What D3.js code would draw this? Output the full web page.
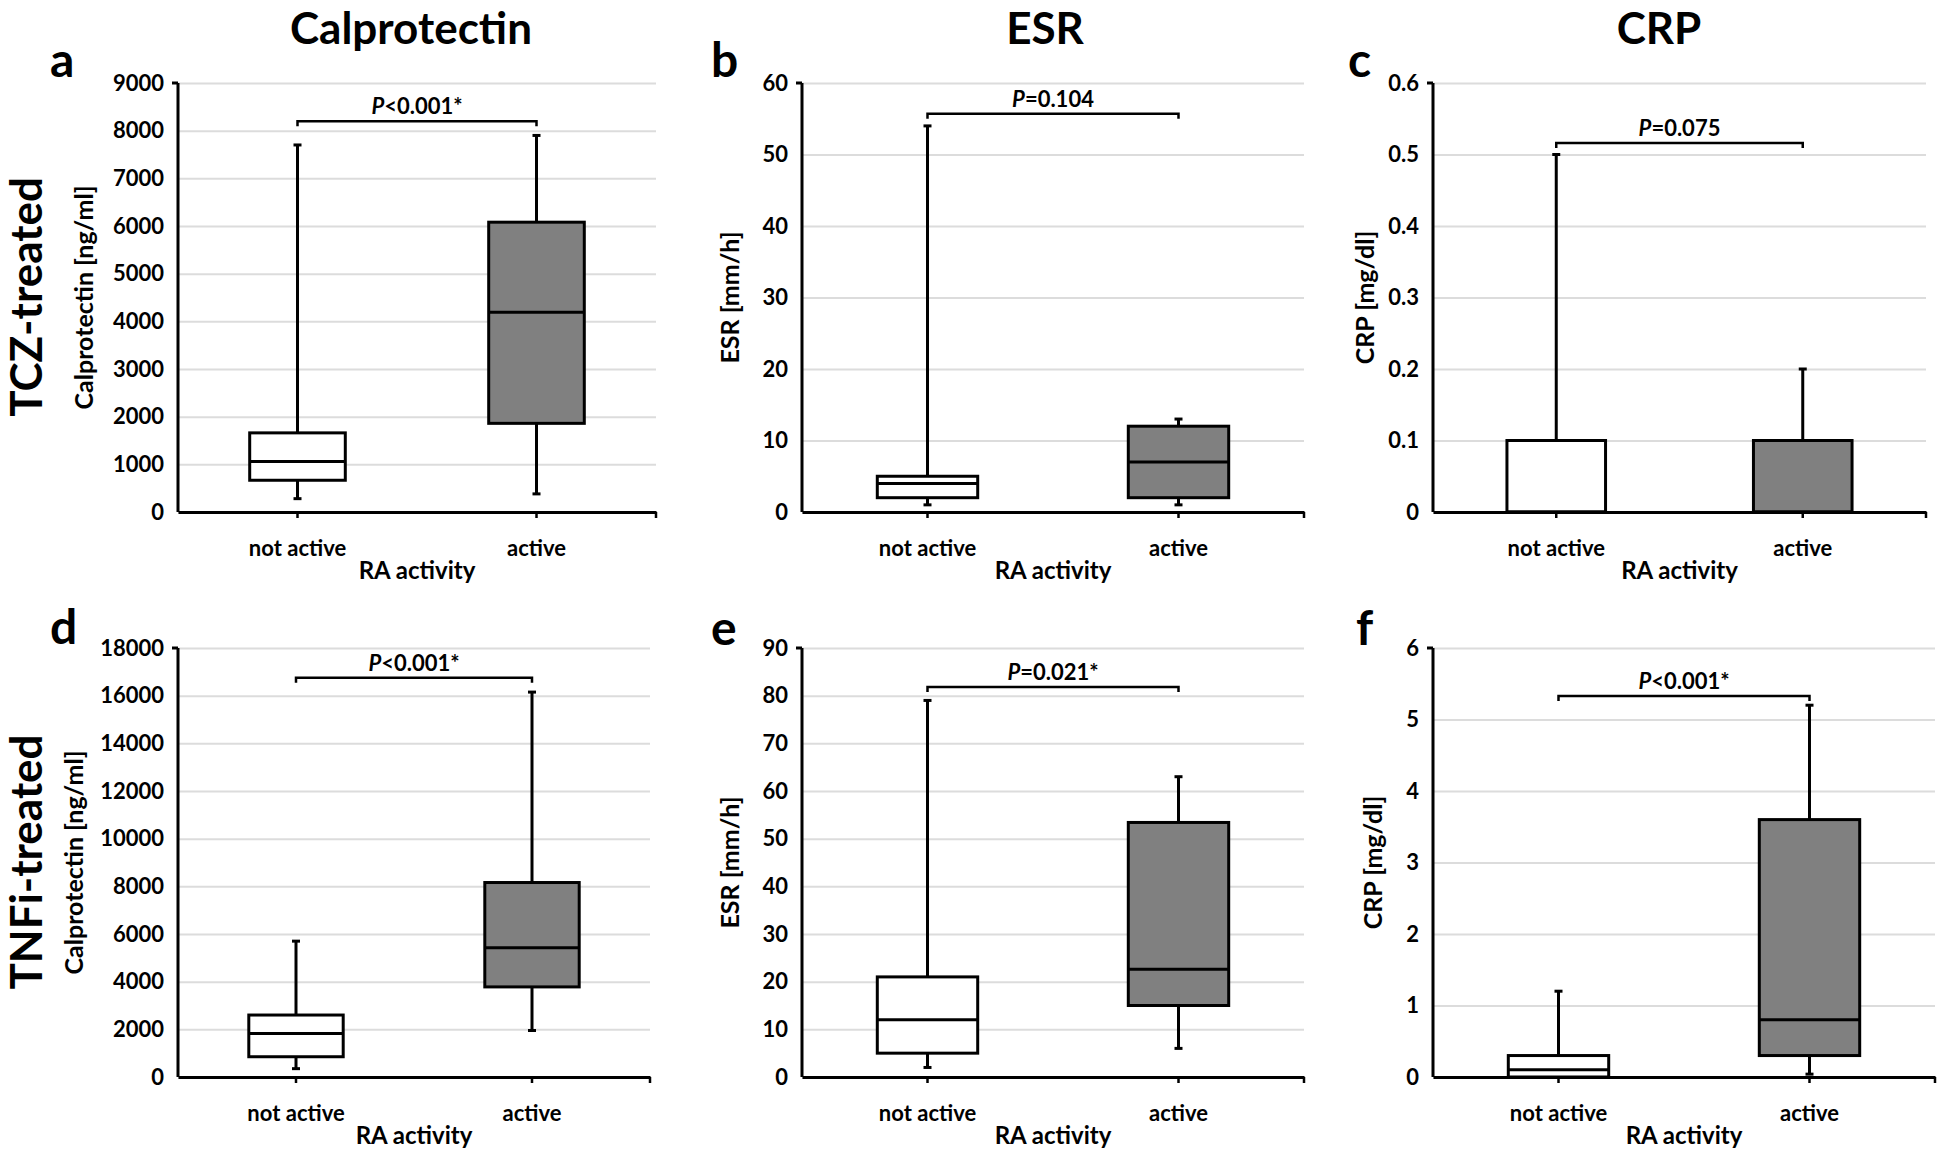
<!DOCTYPE html>
<html><head><meta charset="utf-8">
<script src="https://cdn.jsdelivr.net/npm/d3@7"></script>
<style>
body{margin:0;background:#fff}
text{font-family:Lato,"Open Sans",sans-serif;font-weight:700;fill:#000}
</style>
</head><body>
<svg id="chart" width="1944" height="1150"></svg>
<script>
// ---------- data ----------
const categories = ["not active", "active"];
const columnTitles = ["Calprotectin", "ESR", "CRP"];
const rowTitles = ["TCZ-treated", "TNFi-treated"];
const panelLetters = ["a", "b", "c", "d", "e", "f"];
const yAxisTitles = ["Calprotectin [ng/ml]", "ESR [mm/h]", "CRP [mg/dl]",
                     "Calprotectin [ng/ml]", "ESR [mm/h]", "CRP [mg/dl]"];
// five-number summaries per category: [min, Q1, median, Q3, max]
const tczCalprotectin = [[280, 666, 1060, 1660, 7700], [380, 1860, 4190, 6080, 7900]];
const tczESR          = [[1, 2, 4, 5, 54], [1, 2, 7, 12, 13]];
const tczCRP          = [[0, 0, 0, 0.1, 0.5], [0, 0, 0, 0.1, 0.2]];
const tnfCalprotectin = [[350, 850, 1830, 2600, 5700], [1950, 3780, 5420, 8160, 16150]];
const tnfESR          = [[2, 5, 12, 21, 79], [6, 15, 22.6, 53.4, 63]];
const tnfCRP          = [[0, 0, 0.1, 0.3, 1.2], [0.04, 0.3, 0.8, 3.6, 5.2]];
// y tick values per panel
const ticksCal1 = [0, 1000, 2000, 3000, 4000, 5000, 6000, 7000, 8000, 9000];
const ticksESR1 = [0, 10, 20, 30, 40, 50, 60];
const ticksCRP1 = [0, 0.1, 0.2, 0.3, 0.4, 0.5, 0.6];
const ticksCal2 = [0, 2000, 4000, 6000, 8000, 10000, 12000, 14000, 16000, 18000];
const ticksESR2 = [0, 10, 20, 30, 40, 50, 60, 70, 80, 90];
const ticksCRP2 = [0, 1, 2, 3, 4, 5, 6];
// p-value annotations
const pSymbols = ["<0.001*", "=0.104", "=0.075", "<0.001*", "=0.021*", "<0.001*"];
const bracketLevels = [8195, 55.7, 0.516, 16750, 81.8, 5.33];

const panelData = [tczCalprotectin, tczESR, tczCRP, tnfCalprotectin, tnfESR, tnfCRP];
const panelTicks = [ticksCal1, ticksESR1, ticksCRP1, ticksCal2, ticksESR2, ticksCRP2];

// ---------- layout ----------
const layout = [
  {x0: 178, x1: 656, y0: 512, y1: 83, lx: 50, ly: 77, tx: -94},
  {x0: 802, x1: 1304, y0: 512, y1: 83, lx: 711, ly: 77, tx: -72},
  {x0: 1433, x1: 1926, y0: 512, y1: 83, lx: 1348, ly: 77, tx: -68},
  {x0: 178, x1: 650, y0: 1077, y1: 648, lx: 50, ly: 644, tx: -104},
  {x0: 802, x1: 1304, y0: 1077, y1: 648, lx: 711, ly: 645, tx: -72},
  {x0: 1433, x1: 1935, y0: 1077, y1: 648, lx: 1356, ly: 645, tx: -60}
];
const fills = ["#ffffff", "#808080"];
const svg = d3.select("#chart");

// column titles
const titleX = [411, 1045, 1659];
columnTitles.forEach((t, i) => {
  svg.append("text").attr("x", titleX[i]).attr("y", 44)
    .attr("text-anchor", "middle").style("font-size", "44px").text(t);
});
// row titles
const rowY = [297, 862];
rowTitles.forEach((t, i) => {
  svg.append("text").attr("transform", `translate(26,${rowY[i]}) rotate(-90)`)
    .attr("text-anchor", "middle").attr("dy", "0.36em")
    .style("font-size", "44px").text(t);
});

panelData.forEach((data, p) => {
  const L = layout[p];
  const ticks = panelTicks[p];
  const g = svg.append("g");
  const y = d3.scaleLinear().domain([0, ticks[ticks.length - 1]]).range([L.y0, L.y1]);
  const x = d3.scaleBand().domain(categories).range([L.x0, L.x1])
    .paddingInner(0.6).paddingOuter(0.3);
  const bw = x.bandwidth();
  const cx = c => x(c) + bw / 2;

  // y axis with gridlines
  const yAxis = d3.axisLeft(y).tickValues(ticks)
    .tickFormat(d => String(d))
    .tickSize(-(L.x1 - L.x0)).tickPadding(14);
  const ya = g.append("g").attr("transform", `translate(${L.x0},0)`).call(yAxis);
  ya.select(".domain").remove();
  ya.selectAll(".tick line").attr("stroke", "#dcdcdc").attr("stroke-width", 2);
  ya.selectAll(".tick text").style("font-size", "22px")
    .style("font-family", "Lato").attr("fill", "#000");

  // y axis line + top tick
  g.append("line").attr("x1", L.x0).attr("x2", L.x0).attr("y1", L.y0).attr("y2", L.y1)
    .attr("stroke", "#000").attr("stroke-width", 3);
  g.append("line").attr("x1", L.x0 - 6).attr("x2", L.x0).attr("y1", L.y1).attr("y2", L.y1)
    .attr("stroke", "#000").attr("stroke-width", 3);

  // x axis
  const xAxis = d3.axisBottom(x).tickSizeInner(6).tickSizeOuter(0).tickPadding(22);
  const xa = g.append("g").attr("transform", `translate(0,${L.y0})`).call(xAxis);
  xa.select(".domain").attr("stroke", "#000").attr("stroke-width", 3);
  xa.selectAll(".tick line").attr("stroke", "#000").attr("stroke-width", 2.5);
  xa.selectAll(".tick text").style("font-size", "22px").style("font-family", "Lato")
    .attr("fill", "#000");
  g.append("line").attr("x1", L.x1).attr("x2", L.x1).attr("y1", L.y0).attr("y2", L.y0 + 6)
    .attr("stroke", "#000").attr("stroke-width", 2.5);

  // x axis title
  g.append("text").attr("x", (L.x0 + L.x1) / 2).attr("y", L.y0 + 67)
    .attr("text-anchor", "middle").style("font-size", "24px").text("RA activity");

  // y axis title
  g.append("text")
    .attr("transform", `translate(${L.x0 + L.tx},${(L.y0 + L.y1) / 2}) rotate(-90)`)
    .attr("text-anchor", "middle").attr("dy", "0.36em")
    .style("font-size", "25px").text(yAxisTitles[p]);

  // panel letter
  g.append("text").attr("x", L.lx).attr("y", L.ly).style("font-size", "48px")
    .text(panelLetters[p]);

  // boxes
  categories.forEach((c, i) => {
    const [mn, q1, md, q3, mx] = data[i];
    const xc = cx(c);
    const bg = g.append("g").attr("stroke", "#000").attr("stroke-width", 3);
    if (mx > q3) {
      bg.append("line").attr("x1", xc).attr("x2", xc).attr("y1", y(q3)).attr("y2", y(mx));
      bg.append("line").attr("x1", xc - 4).attr("x2", xc + 4).attr("y1", y(mx)).attr("y2", y(mx));
    }
    if (mn < q1) {
      bg.append("line").attr("x1", xc).attr("x2", xc).attr("y1", y(q1)).attr("y2", y(mn));
      bg.append("line").attr("x1", xc - 4).attr("x2", xc + 4).attr("y1", y(mn)).attr("y2", y(mn));
    }
    bg.append("rect").attr("x", x(c)).attr("width", bw)
      .attr("y", y(q3)).attr("height", y(q1) - y(q3)).attr("fill", fills[i]);
    bg.append("line").attr("x1", x(c)).attr("x2", x(c) + bw).attr("y1", y(md)).attr("y2", y(md));
  });

  // significance bracket
  const yb = y(bracketLevels[p]);
  const xl = cx(categories[0]), xr = cx(categories[1]);
  g.append("path").attr("d", `M${xl},${yb + 5}V${yb}H${xr}V${yb + 5}`)
    .attr("fill", "none").attr("stroke", "#000").attr("stroke-width", 2.5);
  const pt = g.append("text").attr("x", (xl + xr) / 2).attr("y", yb - 7)
    .attr("text-anchor", "middle").style("font-size", "22px");
  pt.append("tspan").style("font-style", "italic").text("P");
  pt.append("tspan").text(pSymbols[p]);
});
</script>
</body></html>
